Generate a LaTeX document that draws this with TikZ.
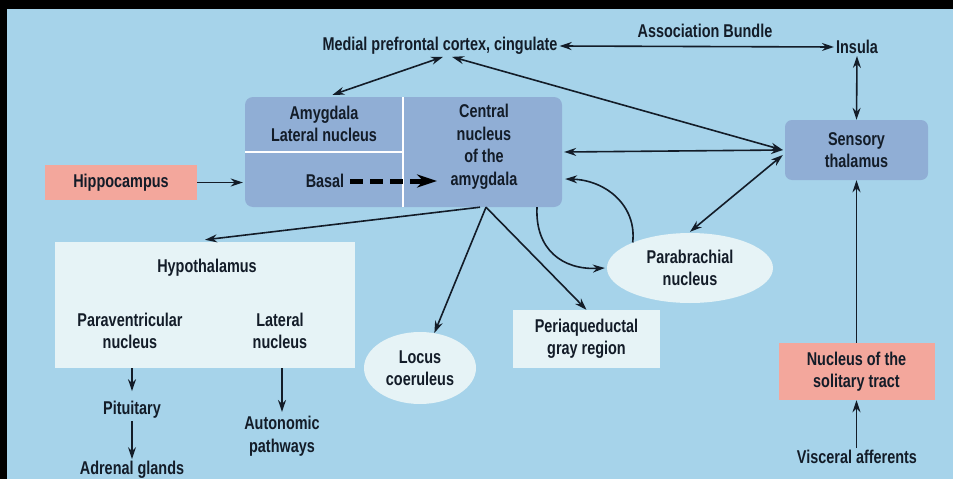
\documentclass[tikz,border=0pt]{standalone}
\usepackage{fontspec}
\setmainfont{Liberation Sans}[FakeStretch=0.78]
\usetikzlibrary{arrows.meta,shapes.geometric}
\definecolor{bg}{HTML}{A6D3EA}
\definecolor{dkbox}{HTML}{90AED5}
\definecolor{ltbox}{HTML}{E6F3F6}
\definecolor{pinkbox}{HTML}{F3A79C}
\definecolor{ink}{HTML}{131C28}
\begin{document}
\begin{tikzpicture}[x=1pt,y=-1pt,
  every node/.style={font=\fontsize{18.5}{22.5}\selectfont\bfseries, text=ink, align=center, inner sep=2pt},
  ghost/.style={inner sep=0pt, draw=none},
  dkrect/.style={fill=dkbox, rounded corners=7pt, inner sep=0pt},
  ltrect/.style={fill=ltbox, inner sep=0pt},
  pkrect/.style={fill=pinkbox, inner sep=0pt},
  ltell/.style={ellipse, fill=ltbox, inner sep=0pt},
  arr/.style={draw=ink, line width=1.6pt, -{Stealth[length=12pt,width=8pt]}},
  darr/.style={draw=ink, line width=1.6pt, {Stealth[length=12pt,width=8pt]}-{Stealth[length=12pt,width=8pt]}},
  thickdash/.style={draw=black, line width=5pt, dash pattern=on 13pt off 7pt, -{Stealth[length=20pt,width=13pt]}}
]
\useasboundingbox (0,0) rectangle (953,479);
\fill[black] (0,0) rectangle (953,479);
\fill[bg] (7,9) rectangle (953,479);

% amygdala block background
\fill[dkbox, rounded corners=8pt] (245,97) rectangle (562,207);
\draw[white, line width=2.5pt] (403,97) -- (403,207);
\draw[white, line width=2.5pt] (245,152) -- (402,152);
\node[ghost, minimum width=157pt, minimum height=55pt] (latbox) at (323.5,124.5) {};
\node[ghost, minimum width=157pt, minimum height=55pt] (basbox) at (323.5,179.5) {};
\node[ghost, minimum width=158pt, minimum height=110pt] (cenbox) at (483,152) {};
\node (latn) at (324,124) {Amygdala\\Lateral nucleus};
\node (basn) at (325,181) {Basal};
\node (cenn) at (484,147) {Central\\nucleus\\of the\\amygdala};
\coordinate (dashend) at (437,181);

% other nodes
\node (mpc) at (440,46) {Medial prefrontal cortex, cingulate};
\node (assoc) at (705,31) {Association Bundle};
\node (insula) at (857,47) {Insula};
\node[dkrect, minimum width=143pt, minimum height=60pt] (st) at (856.5,150) {Sensory\\thalamus};
\node[pkrect, minimum width=152pt, minimum height=35pt] (hipp) at (121,182.5) {Hippocampus};
\node[ltrect, minimum width=300pt, minimum height=126pt] (hypo) at (205,305) {};
\node (hyt) at (207,268) {Hypothalamus};
\node (pvn) at (130,331) {Paraventricular\\nucleus};
\node (lat2) at (280,331) {Lateral\\nucleus};
\node (pit) at (132,410) {Pituitary};
\node (adr) at (132,470) {Adrenal glands};
\node (aut) at (282,436) {Autonomic\\pathways};
\node[ltell, minimum width=112pt, minimum height=72pt] (locus) at (420,368) {Locus\\coeruleus};
\node[ltrect, minimum width=147pt, minimum height=58pt] (peri) at (586.5,339) {Periaqueductal\\gray region};
\node[ltell, minimum width=166pt, minimum height=70pt] (parab) at (690,268) {Parabrachial\\nucleus};
\node[pkrect, minimum width=156pt, minimum height=57pt] (nst) at (856.5,371.5) {Nucleus of the\\solitary tract};
\node (visc) at (857,457) {Visceral afferents};

% connectors
\draw[darr] (mpc.east) -- (insula.west);
\draw[darr] (insula.south) -- (st.north);
\draw[darr] ([xshift=3pt]mpc.south) -- ([xshift=9pt,yshift=2pt]latbox.north);
\draw[darr] ([xshift=12pt]mpc.south) -- ([xshift=-2pt]st.west);
\draw[darr] ([xshift=2pt]cenbox.east) -- ([xshift=-2pt]st.west);
\draw[darr] ([xshift=-2pt,yshift=-5pt]st.west) -- ([yshift=1pt]parab.north);
\draw[arr] (hipp.east) -- ([xshift=-2pt]basbox.west |- hipp.east);
\draw[thickdash] ([xshift=4pt]basn.east) -- (dashend);
\draw[arr] ([xshift=-3pt]cenbox.south) -- ([yshift=2pt]hypo.north);
\draw[arr] ([xshift=3pt]cenbox.south) -- (locus);
\draw[arr] ([xshift=3pt]cenbox.south) -- (peri.north);
\draw[arr] ([xshift=54pt]cenbox.south) .. controls (535,250) and (563,270) .. ([xshift=-2pt]parab.west);
\draw[arr] (parab.156) .. controls (637,205) and (605,180) .. ([xshift=3pt,yshift=-27pt]cenbox.east);
\draw[arr] (pit.north |- hypo.south) -- ([yshift=8pt]pit.north);
\draw[arr] (pit.south) -- (adr.north);
\draw[arr] (aut.north |- hypo.south) -- ([yshift=2pt]aut.north);
\draw[arr] (st.south |- nst.north) -- (st.south);
\draw[arr] (st.south |- visc.north) -- (st.south |- nst.south);
\end{tikzpicture}
\end{document}
